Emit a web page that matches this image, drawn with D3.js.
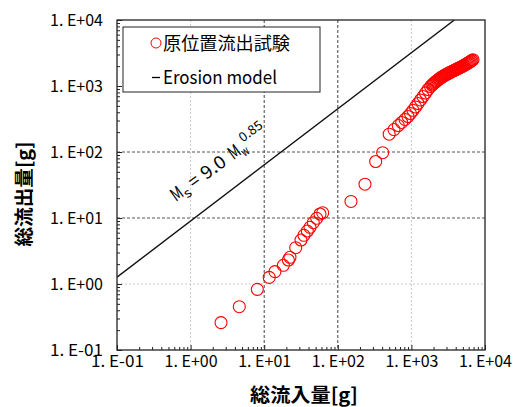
<!DOCTYPE html>
<html>
<head>
<meta charset="utf-8">
<script src="https://cdn.jsdelivr.net/npm/d3@7"></script>
<style>
  body { margin: 0; background: #fff; }
  svg { display: block; }
  text { font-family: "Noto Sans CJK JP", "Noto Sans", sans-serif; fill: #000; }
</style>
</head>
<body>
<svg id="chart" width="513" height="407"></svg>
<script>
// In-situ outflow test: total inflow mass vs total outflow mass [g]
const inflow = [
  2.59, 4.59, 8.06, 11.7, 14.0, 18.2, 21.3, 22.4, 26.8, 31.6, 34.7, 38.5, 41.9, 46.5, 51.7, 57.3, 62.4,
  151, 234, 327, 407, 499, 580, 664, 738, 819, 899, 972, 1051, 1137, 1230, 1330, 1438, 1555, 1682, 1819,
  1905, 1966, 2029, 2093, 2159, 2228, 2299, 2371, 2447, 2525, 2605, 2688, 2773, 2861, 2952, 3046, 3143,
  3243, 3346, 3451, 3561, 3674, 3791, 3911, 4036, 4164, 4297, 4433, 4574, 4719, 4869, 5024, 5184, 5349,
  5518, 5694, 5875, 6061, 6254, 6453, 6658, 6871
];
const outflow = [
  0.26, 0.453, 0.83, 1.26, 1.54, 1.92, 2.31, 2.54, 3.55, 4.64, 5.47, 6.35, 7.23, 8.49, 9.89, 11.5, 12.0,
  17.8, 32.5, 71.8, 97.5, 186, 219, 252, 280, 311, 345, 383, 428, 481, 543, 614, 693, 783, 885, 982,
  1035, 1072, 1106, 1138, 1170, 1203, 1237, 1272, 1308, 1341, 1369, 1398, 1427, 1457, 1488, 1520, 1547,
  1574, 1601, 1630, 1659, 1688, 1717, 1748, 1778, 1810, 1842, 1874, 1907, 1941, 1975, 2009, 2052, 2095,
  2139, 2185, 2231, 2278, 2326, 2384, 2442, 2503
];

// Erosion model Ms = a * Mw^b
const modelCoef = 9.0;
const modelExp = 0.85;

const decades = [1e-1, 1e0, 1e1, 1e2, 1e3, 1e4];
const decadeLabels = ["1. E-01", "1. E+00", "1. E+01", "1. E+02", "1. E+03", "1. E+04"];
const legendLabels = ["原位置流出試験", "Erosion model"];
const xTitle = "総流入量[g]";
const yTitle = "総流出量[g]";

const svg = d3.select("#chart");
const L = 117, R = 485, T = 20, B = 350;

const x = d3.scaleLog().domain([1e-1, 1e4]).range([L, R]);
const y = d3.scaleLog().domain([1e-1, 1e4]).range([B, T]);

// grid lines
const gridX = [
  { v: 1e0, dark: false }, { v: 1e1, dark: true }, { v: 1e2, dark: true }, { v: 1e3, dark: false }
];
const gridY = [
  { v: 1e0, dark: false }, { v: 1e1, dark: true }, { v: 1e2, dark: true }
];
const grid = svg.append("g");
grid.selectAll("line.gx").data(gridX).join("line")
  .attr("x1", d => x(d.v)).attr("x2", d => x(d.v))
  .attr("y1", T).attr("y2", B)
  .attr("stroke", d => d.dark ? "#444" : "#c8c8c8")
  .attr("stroke-width", 1)
  .attr("stroke-dasharray", d => d.dark ? "3,2" : "2,2");
grid.selectAll("line.gy").data(gridY).join("line")
  .attr("y1", d => y(d.v)).attr("y2", d => y(d.v))
  .attr("x1", L).attr("x2", R)
  .attr("stroke", d => d.dark ? "#555" : "#c8c8c8")
  .attr("stroke-width", 1)
  .attr("stroke-dasharray", d => d.dark ? "3,2" : "2,2");

// model line, clipped to the plot area
svg.append("clipPath").attr("id", "plotClip")
  .append("rect").attr("x", L).attr("y", T).attr("width", R - L).attr("height", B - T);
const mwEnd = Math.pow(1e4 / modelCoef, 1 / modelExp);
const modelPts = [1e-1, mwEnd].map(w => [w, modelCoef * Math.pow(w, modelExp)]);
svg.append("path")
  .attr("clip-path", "url(#plotClip)")
  .attr("d", d3.line().x(d => x(d[0])).y(d => y(d[1]))(modelPts))
  .attr("fill", "none").attr("stroke", "#111").attr("stroke-width", 1.4);

// observed points
svg.append("g").attr("clip-path", "url(#plotClip)")
  .selectAll("circle").data(inflow.map((v, i) => [v, outflow[i]])).join("circle")
  .attr("cx", d => x(d[0])).attr("cy", d => y(d[1])).attr("r", 6)
  .attr("fill", "none").attr("stroke", "#ff0000").attr("stroke-width", 1.1);

// axes: major and minor ticks point inward
const minor = x.ticks(50).filter(v => !decades.includes(v));
const fitLabels = sel => sel.selectAll("text")
  .attr("font-size", 16).attr("textLength", 53).attr("lengthAdjust", "spacingAndGlyphs");

const xMinor = svg.append("g").attr("transform", `translate(0,${B})`)
  .call(d3.axisBottom(x).tickValues(minor).tickSize(-3).tickFormat(""));
const xMajor = svg.append("g").attr("transform", `translate(0,${B})`)
  .call(d3.axisBottom(x).tickValues(decades).tickSize(-5).tickPadding(6)
    .tickFormat((d, i) => decadeLabels[i]));
fitLabels(xMajor);
const yMinor = svg.append("g").attr("transform", `translate(${L},0)`)
  .call(d3.axisLeft(y).tickValues(minor).tickSize(-3).tickFormat(""));
const yMajor = svg.append("g").attr("transform", `translate(${L},0)`)
  .call(d3.axisLeft(y).tickValues(decades).tickSize(-5).tickPadding(14)
    .tickFormat((d, i) => decadeLabels[i]));
fitLabels(yMajor);
[xMinor, xMajor, yMinor, yMajor].forEach(g => {
  g.select(".domain").remove();
  g.selectAll("line").attr("stroke", "#222");
  g.selectAll("text").attr("font-family", "'Noto Sans CJK JP', sans-serif").attr("fill", "#000");
});

// plot frame
svg.append("rect").attr("x", L).attr("y", T).attr("width", R - L).attr("height", B - T)
  .attr("fill", "none").attr("stroke", "#222").attr("stroke-width", 1.3);

// axis titles
svg.append("text").attr("x", 304).attr("y", 402).attr("text-anchor", "middle")
  .attr("font-size", 19).attr("font-weight", 700)
  .attr("textLength", 108).attr("lengthAdjust", "spacingAndGlyphs")
  .text(xTitle);
svg.append("text").attr("transform", "translate(31,194) rotate(-90)").attr("text-anchor", "middle")
  .attr("font-size", 19).attr("font-weight", 700)
  .attr("textLength", 105).attr("lengthAdjust", "spacingAndGlyphs")
  .text(yTitle);

// legend
const lg = svg.append("g");
lg.append("rect").attr("x", 123).attr("y", 27).attr("width", 197).attr("height", 65)
  .attr("fill", "#fff").attr("stroke", "#222").attr("stroke-width", 1);
lg.append("circle").attr("cx", 156).attr("cy", 43).attr("r", 5)
  .attr("fill", "none").attr("stroke", "#ff0000").attr("stroke-width", 1);
lg.append("text").attr("x", 163).attr("y", 50).attr("font-size", 18)
  .attr("textLength", 127).attr("lengthAdjust", "spacingAndGlyphs").text(legendLabels[0]);
lg.append("line").attr("x1", 152).attr("x2", 160).attr("y1", 77.5).attr("y2", 77.5)
  .attr("stroke", "#000").attr("stroke-width", 1.3);
lg.append("text").attr("x", 163).attr("y", 84).attr("font-size", 18)
  .attr("textLength", 114).attr("lengthAdjust", "spacingAndGlyphs").text(legendLabels[1]);

// model equation along the line
const eq = svg.append("g").attr("transform", "translate(176,202) rotate(-36)");
const eqParts = [
  { t: "M", x: 0, y: 0, s: 18, w: 11 },
  { t: "s", x: 11, y: 4, s: 13, w: 7 },
  { t: "=", x: 22, y: 0, s: 18, w: 10 },
  { t: "9.0", x: 37, y: 0, s: 18, w: 27 },
  { t: "M", x: 71, y: 0, s: 18, w: 11 },
  { t: "w", x: 82, y: 4, s: 13, w: 7 },
  { t: "0.85", x: 89, y: -9, s: 13, w: 26 }
];
eq.selectAll("text").data(eqParts).join("text")
  .attr("x", d => d.x).attr("y", d => d.y).attr("font-size", d => d.s)
  .attr("textLength", d => d.w).attr("lengthAdjust", "spacingAndGlyphs")
  .text(d => d.t);
</script>
</body>
</html>
